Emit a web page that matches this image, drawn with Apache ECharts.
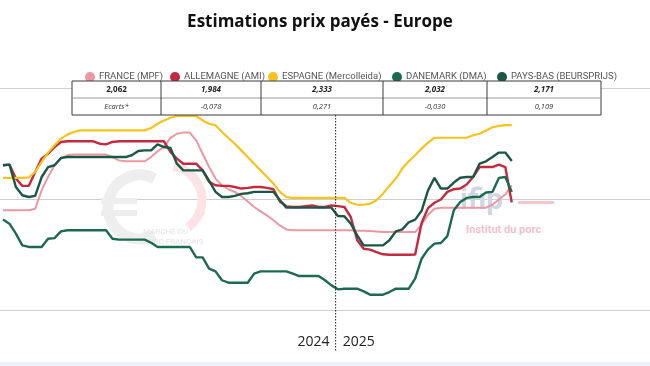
<!DOCTYPE html>
<html><head><meta charset="utf-8">
<script src="https://cdn.jsdelivr.net/npm/echarts@6/dist/echarts.min.js"></script>
<style>html,body{margin:0;padding:0;background:#fff}#c{width:650px;height:366px}</style>
</head><body><div id="c"></div>
<script>
// ---------- DATA ----------
const seriesNames = ['FRANCE (MPF)', 'ALLEMAGNE (AMI)', 'ESPAGNE (Mercolleida)', 'DANEMARK (DMA)', 'PAYS-BAS (BEURSPRIJS)'];
// weekly prices (€/kg), 2024 week 1 -> 2025 week 28
const france = [1.949,1.949,1.949,1.949,1.949,1.956,2.039,2.099,2.152,2.182,
  2.197,2.2,2.2,2.2,2.2,2.2,2.2,2.189,2.174,2.17,
  2.17,2.17,2.17,2.189,2.215,2.234,2.275,2.294,2.299,2.299,
  2.264,2.204,2.144,2.092,2.062,2.044,2.032,2.014,1.989,1.964,
  1.944,1.926,1.904,1.881,1.863,1.859,1.859,1.859,1.859,1.859,
  1.859,1.859,1.859,1.859,1.859,1.857,1.857,1.856,1.854,1.851,
  1.851,1.851,1.851,1.851,1.851,1.884,1.929,1.956,1.961,1.961,
  1.961,1.961,1.961,1.961,1.961,1.961,1.974,1.998,2.02,2.062];
const allemagne = [2.152,2.155,2.092,2.059,2.059,2.122,2.182,2.204,2.234,2.257,
  2.26,2.26,2.26,2.26,2.26,2.249,2.246,2.257,2.26,2.26,
  2.26,2.26,2.26,2.26,2.26,2.26,2.212,2.182,2.159,2.159,
  2.159,2.129,2.077,2.062,2.059,2.059,2.054,2.047,2.05,2.054,
  2.054,2.05,2.044,1.989,1.967,1.964,1.964,1.968,1.971,1.964,
  1.964,1.971,1.968,1.964,1.919,1.814,1.776,1.772,1.761,1.751,
  1.749,1.749,1.749,1.749,1.75,1.892,1.959,1.983,1.998,2.032,
  2.044,2.047,2.065,2.099,2.144,2.144,2.144,2.155,2.144,1.984];
const espagne = [2.095,2.095,2.095,2.095,2.097,2.122,2.167,2.209,2.242,2.272,
  2.29,2.302,2.309,2.309,2.309,2.309,2.309,2.309,2.309,2.309,
  2.309,2.309,2.309,2.32,2.339,2.354,2.366,2.374,2.374,2.374,
  2.374,2.354,2.339,2.332,2.302,2.275,2.249,2.219,2.189,2.159,
  2.129,2.099,2.069,2.032,2.009,2.005,2.005,2.005,2.005,2.005,
  2.005,2.005,2.005,2.005,1.983,1.974,1.974,1.979,1.994,2.024,
  2.059,2.092,2.137,2.17,2.197,2.227,2.254,2.275,2.276,2.276,
  2.276,2.276,2.276,2.287,2.294,2.309,2.323,2.329,2.333,2.333];
const danemark = [1.908,1.889,1.844,1.791,1.784,1.784,1.784,1.821,1.824,1.854,
  1.859,1.859,1.859,1.859,1.859,1.859,1.859,1.821,1.817,1.817,
  1.817,1.817,1.817,1.803,1.784,1.784,1.784,1.784,1.784,1.784,
  1.737,1.737,1.686,1.674,1.634,1.623,1.623,1.623,1.623,1.664,
  1.674,1.674,1.674,1.674,1.674,1.664,1.653,1.653,1.653,1.653,
  1.634,1.611,1.593,1.596,1.596,1.596,1.584,1.569,1.569,1.569,
  1.581,1.596,1.596,1.596,1.641,1.731,1.773,1.799,1.802,1.833,
  1.949,1.986,2.005,2.009,2.009,2.029,2.032,2.095,2.099,2.032];
const paysBas = [2.152,2.155,2.054,2.017,2.009,2.014,2.099,2.144,2.152,2.185,
  2.189,2.189,2.189,2.189,2.189,2.189,2.189,2.189,2.189,2.189,
  2.197,2.216,2.219,2.219,2.246,2.234,2.23,2.159,2.129,2.129,
  2.129,2.129,2.083,2.032,2.009,2.009,2.014,2.023,2.026,2.032,
  2.032,2.032,2.032,1.994,1.961,1.961,1.961,1.961,1.961,1.961,
  1.961,1.961,1.923,1.922,1.889,1.836,1.791,1.791,1.791,1.791,
  1.814,1.854,1.863,1.895,1.907,1.947,2.039,2.095,2.047,2.047,
  2.074,2.096,2.099,2.099,2.159,2.17,2.189,2.209,2.209,2.171];
const lastValues = ['2,062', '1,984', '2,333', '2,032', '2,171'];
const ecartLabel = 'Ecarts*';
const ecarts = ['-0,078', '0,271', '-0,030', '0,109'];
const yearLabels = ['2024', '2025'];
const weeksIn2024 = 52;
const yTicks = [1.5, 2.0, 2.5];
const titleText = 'Estimations prix payés - Europe';

// ---------- STYLE ----------
const colors = ['#ec98a3', '#c42a3f', '#f7c31c', '#1c6a4f', '#1b5745'];
const widths = [2, 2.4, 2.2, 2.4, 2.4];
const allData = [france, allemagne, espagne, danemark, paysBas];
const colEdges = [72, 161, 261, 383, 487, 601];
const legendLeft = [80, 165, 263, 387, 492];
const tableTop = 81, rowH = 17;

const chart = echarts.init(document.getElementById('c'), null, {renderer: 'canvas'});

const series = allData.map((arr, s) => ({
  name: seriesNames[s], type: 'line', data: arr.map((v, i) => [i, v]),
  showSymbol: false, symbol: 'circle', smooth: false, z: 3 + s,
  lineStyle: {color: colors[s], width: widths[s]}, itemStyle: {color: colors[s]},
  emphasis: {disabled: true}
}));

const legends = seriesNames.map((n, s) => ({
  data: [n], left: legendLeft[s], top: 67, icon: 'circle', itemWidth: 10, itemHeight: 10,
  itemGap: 4, textStyle: {fontFamily: 'Roboto', fontSize: 9.5, color: '#555', padding: [0,0,0,-1]},
  selectedMode: false
}));

const d = 6.44;
chart.setOption({
  animation: false,
  color: colors,
  legend: legends,
  grid: {left: 0, right: 0, top: 88, bottom: 56},
  xAxis: {type: 'value', min: -3 / d, max: -3 / d + 650 / d, show: false, splitLine: {show: false}},
  yAxis: {type: 'value', min: yTicks[0], max: yTicks[yTicks.length - 1], interval: 0.5,
    axisLabel: {show: false}, axisLine: {show: false}, axisTick: {show: false},
    splitLine: {lineStyle: {color: '#cfcfcf', width: 1}}},
  series: series
});

// divider + year labels, positioned via the axis
const divX = chart.convertToPixel({xAxisIndex: 0}, weeksIn2024 - 0.35);
const g = [];
g.push({type: 'text', x: 320, y: 22, style: {text: titleText, align: 'center', verticalAlign: 'middle', fontFamily: 'Open Sans', fontWeight: 'bold', fontSize: 17, fill: '#111'}, z: 20});
// watermarks
g.push({type: 'arc', shape: {cx: 140, cy: 207, r: 32, startAngle: Math.PI * 0.35, endAngle: Math.PI * 1.65, clockwise: true}, style: {stroke: '#eeeeee', lineWidth: 11, fill: null}, z: 0});
g.push({type: 'rect', shape: {x: 101, y: 198, width: 36, height: 6}, style: {fill: '#eeeeee'}, z: 0});
g.push({type: 'rect', shape: {x: 101, y: 210, width: 36, height: 6}, style: {fill: '#eeeeee'}, z: 0});
g.push({type: 'arc', shape: {cx: 168, cy: 200, r: 34, startAngle: -Math.PI * 0.45, endAngle: Math.PI * 0.3, clockwise: true}, style: {stroke: '#fce3e5', lineWidth: 9, fill: null}, z: 0});
g.push({type: 'circle', shape: {cx: 200, cy: 212, r: 5}, style: {fill: '#fce3e5'}, z: 0});
g.push({type: 'text', x: 143, y: 228, style: {text: 'MARCHÉ DU', fontFamily: 'Roboto', fontSize: 8, fill: '#e3e3e3'}, z: 0});
g.push({type: 'text', x: 143, y: 238, style: {text: 'PORC FRANÇAIS', fontFamily: 'Roboto', fontSize: 8, fill: '#e3e3e3'}, z: 0});
g.push({type: 'text', x: 460, y: 186, style: {text: 'ifip', fontFamily: 'Roboto', fontWeight: 'bold', fontSize: 30, fill: '#cfd7e5'}, z: 0});
g.push({type: 'rect', shape: {x: 518, y: 201, width: 36, height: 3}, style: {fill: '#f5c6cc'}, z: 0});
g.push({type: 'text', x: 466, y: 225, style: {text: 'Institut du porc', fontFamily: 'Roboto', fontWeight: 'bold', fontSize: 11, fill: '#f4c0c7'}, z: 0});
// table
g.push({type: 'rect', shape: {x: colEdges[0], y: tableTop, width: colEdges[5] - colEdges[0], height: rowH * 2}, style: {fill: '#fff', stroke: '#3a3a3a', lineWidth: 1}, z: 10});
g.push({type: 'line', shape: {x1: colEdges[0], y1: tableTop + rowH, x2: colEdges[5], y2: tableTop + rowH}, style: {stroke: '#9a9a9a', lineWidth: 1}, z: 11});
for (let k = 1; k < 5; k++) {
  g.push({type: 'line', shape: {x1: colEdges[k], y1: tableTop, x2: colEdges[k], y2: tableTop + rowH * 2}, style: {stroke: '#3a3a3a', lineWidth: 1}, z: 11});
}
for (let k = 0; k < 5; k++) {
  const cx = (colEdges[k] + colEdges[k + 1]) / 2;
  g.push({type: 'text', x: cx, y: tableTop + rowH / 2, style: {text: lastValues[k], align: 'center', verticalAlign: 'middle', fontFamily: 'Open Sans', fontWeight: 'bold', fontStyle: k === 0 ? 'normal' : 'italic', fontSize: 8, fill: '#222'}, z: 12});
  g.push({type: 'text', x: cx, y: tableTop + rowH * 1.5, style: {text: k === 0 ? ecartLabel : ecarts[k - 1], align: 'center', verticalAlign: 'middle', fontFamily: 'Open Sans', fontStyle: 'italic', fontSize: 7.5, fill: '#333'}, z: 12});
}
// year divider
g.push({type: 'line', shape: {x1: divX, y1: tableTop + rowH * 2, x2: divX, y2: 352}, style: {stroke: '#222', lineWidth: 1, lineDash: [1.5, 1.5]}, z: 20});
g.push({type: 'text', x: divX - 6, y: 342, style: {text: yearLabels[0], align: 'right', verticalAlign: 'middle', fontFamily: 'Open Sans', fontSize: 14, fill: '#222'}, z: 20});
g.push({type: 'text', x: divX + 7, y: 342, style: {text: yearLabels[1], align: 'left', verticalAlign: 'middle', fontFamily: 'Open Sans', fontSize: 14, fill: '#222'}, z: 20});
g.push({type: 'rect', shape: {x: 0, y: 362, width: 650, height: 4}, style: {fill: '#edf3f9'}, z: 0});
chart.setOption({graphic: g});
</script>
</body></html>
